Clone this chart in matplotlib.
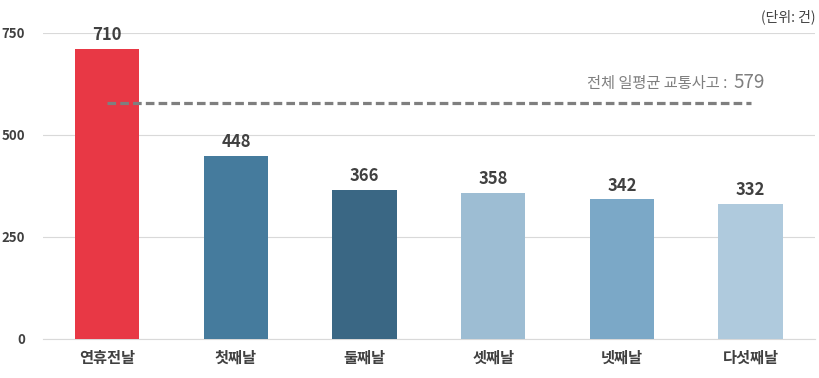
import matplotlib
matplotlib.use("Agg")
import matplotlib.pyplot as plt

plt.rcParams['font.family'] = ['Noto Sans CJK KR', 'DejaVu Sans']

# data
days = ['연휴전날', '첫째날', '둘째날', '셋째날', '넷째날', '다섯째날']
accidents = [710, 448, 366, 358, 342, 332]
bar_colors = ['#E83845', '#457B9D', '#3A6784', '#9DBDD3', '#7BA8C7', '#AFCADD']
daily_avg = 579
y_ticks = [0, 250, 500, 750]

fig = plt.figure(figsize=(8.2, 3.78), dpi=100)
ax = fig.add_axes([0.0524, 0.1032, 0.9415, 0.8095])

x = range(len(days))
ax.bar(x, accidents, width=0.5, color=bar_colors, zorder=3)

for i, v in enumerate(accidents):
    ax.text(i, v + 12, f'{v}', ha='center', va='bottom', fontsize=12,
            fontweight='bold', color='#404040', clip_on=False, zorder=4)

# average line
ax.plot([0, len(days) - 1], [daily_avg, daily_avg], linestyle=(0, (2.7, 1.3)),
        color='#7F7F7F', linewidth=2.3, zorder=4)
ax.text(4.87, daily_avg + 36, '전체 일평균 교통사고 :  ', ha='right', va='baseline',
        fontsize=11, color='#7F7F7F')
ax.text(4.87, daily_avg + 36, f'{daily_avg}', ha='left', va='baseline',
        fontsize=13.5, color='#7F7F7F')

ax.set_xlim(-0.5, 5.5)
ax.set_ylim(0, 750)
ax.set_yticks(y_ticks)
ax.set_yticklabels([str(t) for t in y_ticks], fontsize=9.5, fontweight='bold', color='#404040')
ax.set_xticks(list(x))
ax.set_xticklabels(days, fontsize=11, fontweight='bold', color='#404040')
ax.tick_params(axis='both', length=0)
ax.tick_params(axis='x', pad=8)
ax.tick_params(axis='y', pad=13)
ax.grid(axis='y', color='#D9D9D9', linewidth=0.8, zorder=0)
for s in ['top', 'right', 'left']:
    ax.spines[s].set_visible(False)
ax.spines['bottom'].set_color('#D9D9D9')

fig.text(0.995, 0.975, '(단위: 건)', ha='right', va='top', fontsize=10, color='#404040')

fig.savefig('out.png', dpi=100)
